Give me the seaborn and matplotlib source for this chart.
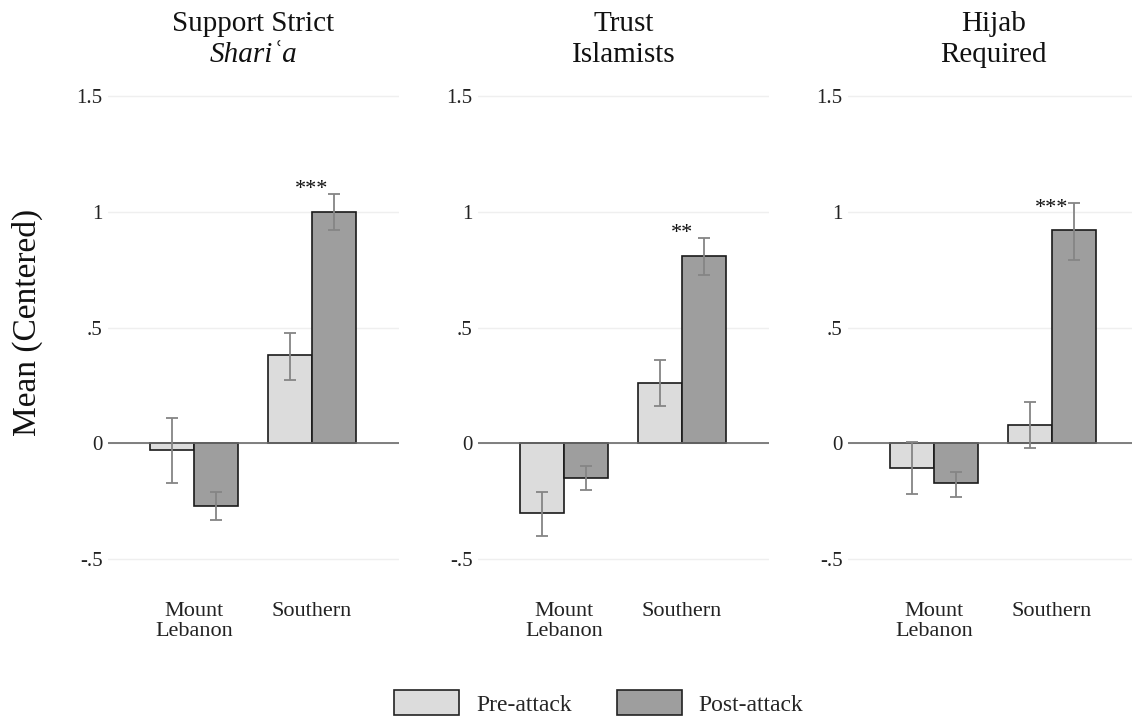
import pandas as pd
import seaborn as sns
import matplotlib.pyplot as plt
from matplotlib.patches import Patch

# Datos
outcomes = ['Support Strict', 'Trust', 'Hijab']
subtitles = ['Shariʿa', 'Islamists', 'Required']
regions = ['Mount\nLebanon', 'Southern']
periods = ['Pre-attack', 'Post-attack']

pre_means = [[-0.03, 0.38], [-0.30, 0.26], [-0.105, 0.08]]
post_means = [[-0.27, 1.00], [-0.15, 0.81], [-0.17, 0.92]]
pre_lo = [[-0.17, 0.275], [-0.40, 0.16], [-0.22, -0.02]]
pre_hi = [[0.11, 0.475], [-0.21, 0.36], [0.005, 0.18]]
post_lo = [[-0.33, 0.92], [-0.20, 0.725], [-0.23, 0.79]]
post_hi = [[-0.21, 1.077], [-0.10, 0.885], [-0.125, 1.04]]
stars = ['***', '**', '***']

yticks = [-0.5, 0, 0.5, 1, 1.5]
ytick_labels = ['-.5', '0', '.5', '1', '1.5']

colors = {'Pre-attack': '#dcdcdc', 'Post-attack': '#9e9e9e'}

rows = []
for i, out in enumerate(outcomes):
    for j, reg in enumerate(regions):
        rows.append({'outcome': out, 'region': reg, 'period': 'Pre-attack', 'value': pre_means[i][j]})
        rows.append({'outcome': out, 'region': reg, 'period': 'Post-attack', 'value': post_means[i][j]})
df = pd.DataFrame(rows)

sns.set_style('white')
plt.rcParams['font.family'] = ['Liberation Serif', 'DejaVu Serif']

fig = plt.figure(figsize=(11.32, 7.21), dpi=100)
W, H = 1132, 721
ylim = (-0.62, 1.52)
# posiciones de los paneles en pixeles
top_px, bot_px = 91.4, 586.8
lefts = [108, 478, 848]
width_px = 291

for i, out in enumerate(outcomes):
    ax = fig.add_axes([lefts[i] / W, 1 - bot_px / H, width_px / W, (bot_px - top_px) / H])
    sub = df[df['outcome'] == out]
    sns.barplot(data=sub, x='region', y='value', hue='period', order=regions,
                hue_order=periods, palette=colors, saturation=1, width=0.75,
                edgecolor='#1a1a1a', linewidth=1.2, errorbar=None, legend=False, ax=ax)

    # barras de error
    for cont, means, lo, hi in zip(ax.containers, [pre_means[i], post_means[i]],
                                   [pre_lo[i], post_lo[i]], [pre_hi[i], post_hi[i]]):
        xs = [b.get_x() + b.get_width() / 2 for b in cont]
        yerr = [[m - l for m, l in zip(means, lo)], [h - m for m, h in zip(means, hi)]]
        ax.errorbar(xs, means, yerr=yerr, fmt='none', ecolor='#858585',
                    elinewidth=1.3, capsize=4.5, capthick=1.3, zorder=4)

    ax.axhline(0, color='#6a6a6a', lw=1.2, zorder=1.5)
    ax.set_ylim(*ylim)
    ax.set_xlim(-0.73, 1.74)
    ax.set_yticks(yticks)
    ax.set_yticklabels(ytick_labels)
    ax.yaxis.grid(True, color='#efefef', lw=1)
    ax.set_axisbelow(True)
    ax.tick_params(axis='y', length=0, pad=4, labelsize=15, labelcolor='#222222')
    ax.tick_params(axis='x', length=0, pad=11, labelsize=16, labelcolor='#222222')
    for lab in ax.get_xticklabels():
        lab.set_linespacing(1.05)
    ax.set_xlabel('')
    ax.set_ylabel('')
    sns.despine(ax=ax, left=True, bottom=True)

    # asteriscos
    ax.text(1, post_means[i][1] + 0.075, stars[i], ha='center', va='baseline',
            fontsize=16, color='#111111')

    # titulos en dos lineas
    ax.annotate(out, xy=(0.5, 1), xycoords='axes fraction', xytext=(0, 43.5),
                textcoords='offset points', ha='center', va='baseline',
                fontsize=21, color='#111111')
    ax.annotate(subtitles[i], xy=(0.5, 1), xycoords='axes fraction', xytext=(0, 21),
                textcoords='offset points', ha='center', va='baseline',
                fontsize=21, color='#111111', style='italic' if i == 0 else 'normal')

fig.text(27 / W, 1 - 322 / H, 'Mean (Centered)', rotation=90, ha='center', va='center',
         fontsize=24, color='#111111')

handles = [Patch(facecolor=colors[p], edgecolor='#222222', linewidth=1.2, label=p) for p in periods]
fig.legend(handles=handles, loc='center', bbox_to_anchor=(599 / W, 1 - 703 / H), ncol=2,
           frameon=False, fontsize=17, handlelength=2.75, handleheight=1.2,
           handletextpad=0.72, columnspacing=1.9)

fig.savefig('out.png', dpi=100)
